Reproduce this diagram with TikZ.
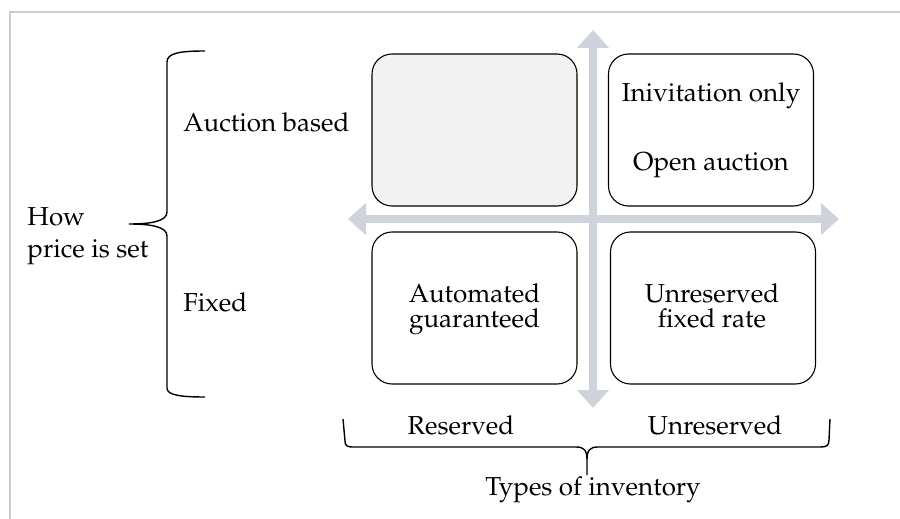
\documentclass[tikz,border=0pt]{standalone}
\IfFileExists{mathpazo.sty}{\usepackage[T1]{fontenc}\usepackage{mathpazo}}{\usepackage{fontspec}\setmainfont{Liberation Serif}}
\usetikzlibrary{arrows.meta}
\definecolor{framegray}{HTML}{CCCCCC}
\definecolor{axisgray}{HTML}{CFD3DC}
\definecolor{boxfill}{HTML}{F2F2F2}
\begin{document}
\begin{tikzpicture}[x=0.5pt,y=-0.5pt,
  txt/.style={font=\fontsize{13}{15.5}\selectfont, inner sep=0pt},
  quad/.style={draw=black, line width=0.55pt, rounded corners=10pt, minimum width=102.5pt, minimum height=76pt, inner sep=0pt},
  axis/.style={draw=axisgray, line width=4pt, {Triangle[width=15.5pt,length=9pt]}-{Triangle[width=15.5pt,length=9pt]}},
  bracestyle/.style={draw=black, line width=0.7pt},
  framestyle/.style={draw=framegray, line width=0.8pt}
]
\useasboundingbox (0,0) rectangle (900,519);
\fill[white] (0,0) rectangle (900,519);
% frame
\draw[framestyle] (10,519) -- (10,12) -- (900,12);

% quadrant boxes
\node[quad, fill=boxfill] (tl) at (474.5,130) {};
\node[quad] (tr) at (711,130) {};
\node[quad] (bl) at (474.5,308) {};
\node[quad] (br) at (713,308) {};

% axes
\coordinate (vtop) at (593,30);
\coordinate (vbot) at (593,408);
\coordinate (hleft) at (348,219);
\coordinate (hright) at (839,219);
\draw[axis] (vtop) -- (vbot);
\draw[axis] (hleft) -- (hright);

% box texts
\node[txt, anchor=base] (t1) at (711,102) {Inivitation only};
\node[txt, anchor=base] (t2) at (711,170) {Open auction};
\node[txt, anchor=base] (t3) at (474.5,302) {Automated};
\node[txt, anchor=base] (t4) at (474.5,327) {guaranteed};
\node[txt, anchor=base] (t5) at (712,302) {Unreserved};
\node[txt, anchor=base] (t6) at (712,327) {fixed rate};

% left labels
\node[txt, anchor=base west] (auction) at (183,132) {Auction based};
\node[txt, anchor=base west] (fixed) at (183,311) {Fixed};
\node[txt, anchor=base west] (how) at (27,226) {How};
\node[txt, anchor=base west] (price) at (27,257) {price is set};

% bottom labels
\node[txt, anchor=base] (reserved) at (461,434) {Reserved};
\node[txt, anchor=base] (unreserved) at (715,434) {Unreserved};
\node[txt, anchor=base] (types) at (593,495) {Types of inventory};

% left brace
\draw[bracestyle] (205,51) .. controls (180,51) and (167,53) .. (167,62) -- (167,212)
  .. controls (167,221) and (152,224) .. (129,224)
  .. controls (152,224) and (167,227) .. (167,236) -- (167,388)
  .. controls (167,395) and (180,397) .. (205,397);

% bottom brace
\draw[bracestyle] (343,419) -- (345,441) .. controls (345,446) and (347,447) .. (354,447) -- (576,447)
  .. controls (584,447) and (587,450) .. (587,460) -- (587,475)
  (587,460) .. controls (587,450) and (590,447) .. (598,447) -- (821,447)
  .. controls (827,447) and (829,445) .. (829,440) -- (830,419);
\end{tikzpicture}
\end{document}
